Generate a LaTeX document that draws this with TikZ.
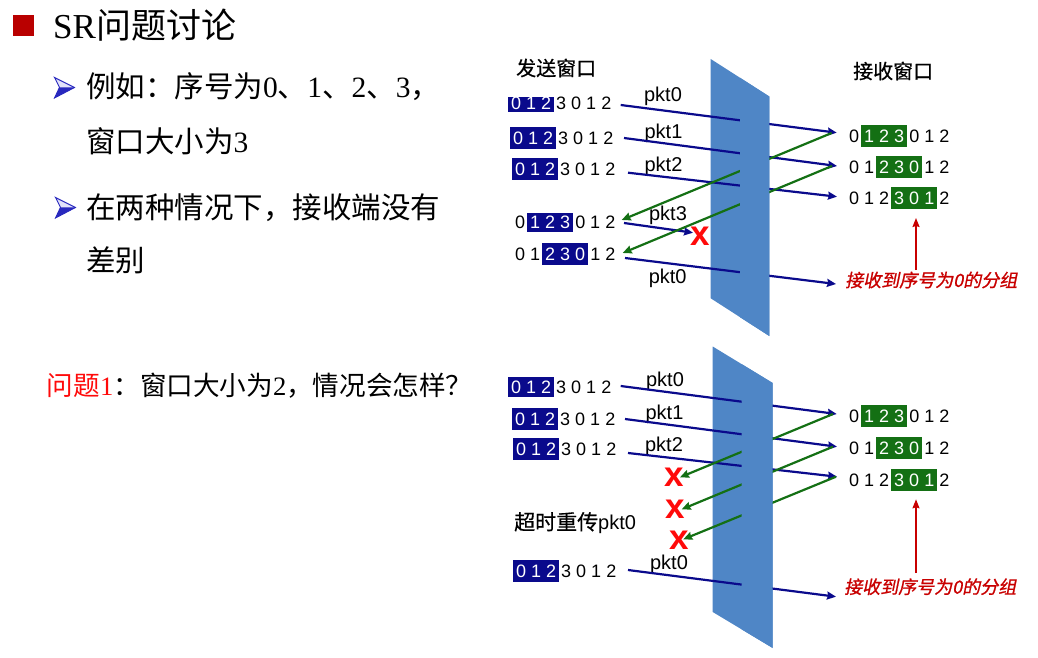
\documentclass[tikz,border=0pt]{standalone}
\usepackage{fontspec}
\usetikzlibrary{arrows.meta}
\setmainfont{Liberation Serif}
\newfontfamily\cjk{Noto Sans CJK SC}
\newfontfamily\cjkb[FakeBold=0.6]{Noto Sans CJK SC}
\newfontfamily\cjkit[FakeSlant=0.2,FakeBold=1]{Noto Sans CJK SC}
\newfontfamily\arial{Liberation Sans}
\definecolor{nv}{RGB}{10,10,140}
\definecolor{gr}{RGB}{20,112,20}
\definecolor{slab}{RGB}{79,134,198}
\definecolor{dred}{RGB}{200,0,0}
\definecolor{xred}{RGB}{255,10,10}
\definecolor{sqred}{RGB}{185,0,0}
\definecolor{bul}{RGB}{40,40,190}
\definecolor{bullight}{RGB}{225,225,250}
\newcommand\hl[4]{\kern-3pt{\fboxsep=0pt\colorbox{#1}{\rule[-#2]{0pt}{\dimexpr#2+#3\relax}\kern3pt\textcolor{white}{#4}\kern3pt\relax}}\kern-3pt\relax}
\tikzset{
  seq/.style={anchor=base west, inner sep=0pt, font=\arial\fontsize{18}{18}\selectfont},
  pkt/.style={anchor=center, inner sep=0pt, font=\arial\fontsize{20}{20}\selectfont},
  ttl/.style={anchor=west, inner sep=0pt, font=\cjkb\fontsize{20}{20}\selectfont},
  body/.style={anchor=base west, inner sep=0pt, font=\fontsize{29.5}{29.5}\selectfont},
  lbl/.style={anchor=west, inner sep=0pt, text=dred, font=\cjkit\fontsize{18}{18}\selectfont},
  xm/.style={anchor=center, inner sep=0pt, text=xred, font=\arial\bfseries\fontsize{35}{35}\selectfont},
  sendl/.style={draw=nv, line width=2.2pt, -{Stealth[length=9pt,width=8pt,inset=1pt]}},
  ackl/.style={draw=gr, line width=2.2pt, -{Stealth[length=9pt,width=8pt,inset=1pt]}},
  redl/.style={draw=dred, line width=1.4pt, -{Stealth[length=9pt,width=7pt,inset=1pt]}},
  bulout/.style={draw=bul, line width=0.9pt, fill=bullight, line join=miter},
}
\begin{document}
\begin{tikzpicture}[x=1pt,y=-1pt]
\useasboundingbox (0,0) rectangle (1038,658);
% ---------- left text ----------
\fill[sqred] (12.7,15) rectangle (34,35.7);
\node[anchor=base west, inner sep=0pt, font=\fontsize{35}{35}\selectfont] (title) at (53,38.3) {SR{\cjk 问题讨论}};
\draw[bulout] (54.5,77.5) -- (74.5,87.5) -- (54.5,98) -- (59.5,87.3) -- cycle;
\fill[bul] (59.5,87.3) -- (74.5,87.5) -- (54.5,98) -- cycle;
\draw[bulout] (55.5,197.5) -- (75.5,207.5) -- (55.5,218) -- (60.5,207.3) -- cycle;
\fill[bul] (60.5,207.3) -- (75.5,207.5) -- (55.5,218) -- cycle;
\node[body] (l1) at (86,98) {{\cjk 例如：序号为}0{\cjk 、}1{\cjk 、}2{\cjk 、}3{\cjk ，}};
\node[body] (l2) at (86,152) {{\cjk 窗口大小为}3};
\node[body] (l3) at (86,218) {{\cjk 在两种情况下，接收端没有}};
\node[body] (l4) at (86,271.7) {{\cjk 差别}};
\node[anchor=base west, inner sep=0pt, font=\fontsize{26.6}{26.6}\selectfont] (q) at (46.7,395)
  {\textcolor{xred}{{\cjk 问题}1}{\cjk ：窗口大小为}2{\cjk ，情况会怎样？}};
% ---------- slabs ----------
\fill[slab] (710.7,59) -- (769.3,96.5) -- (769.3,336) -- (710.7,298.3) -- cycle;
\fill[slab] (712.7,346.5) -- (772.7,383) -- (772.7,648) -- (712.7,612) -- cycle;
% ---------- top diagram ----------
\node[ttl] (snd) at (516,68) {发送窗口};
\node[ttl] (rcv) at (853,71) {接收窗口};
\node[seq] (s1) at (511,110) {\hl{nv}{1.7pt}{13.3pt}{0 1 2} 3 0 1 2};
\node[seq] (s2) at (513,144.5) {\hl{nv}{4.5pt}{17.5pt}{0 1 2} 3 0 1 2};
\node[seq] (s3) at (515,175.5) {\hl{nv}{4.5pt}{17.5pt}{0 1 2} 3 0 1 2};
\node[seq] (s4) at (515,228.5) {0 \hl{nv}{3.5pt}{15.5pt}{1 2 3} 0 1 2};
\node[seq] (s5) at (515,260.5) {0 1 \hl{nv}{4.5pt}{17.5pt}{2 3 0} 1 2};
\node[seq] (r1) at (849,142.5) {0 \hl{gr}{4.5pt}{17.5pt}{1 2 3} 0 1 2};
\node[seq] (r2) at (849,173.5) {0 1 \hl{gr}{4.5pt}{17.5pt}{2 3 0} 1 2};
\node[seq] (r3) at (849,204.5) {0 1 2 \hl{gr}{4.5pt}{17.5pt}{3 0 1} 2};
\node[pkt] (k0) at (663,96.7) {pkt0};
\node[pkt] (k1) at (663.5,133.3) {pkt1};
\node[pkt] (k2) at (663.5,166.7) {pkt2};
\node[pkt] (k3) at (668,215.7) {pkt3};
\node[pkt] (k4) at (667.7,278.3) {pkt0};
\coordinate (a0) at (620.7,105);   \coordinate (b0) at (836.7,132.7);
\coordinate (a1) at (624,138);     \coordinate (b1) at (837,166);
\coordinate (a2) at (628,172.7);   \coordinate (b2) at (837,196.7);
\coordinate (a3) at (624,223);     \coordinate (b3) at (693,232.7);
\coordinate (a4) at (625,258);     \coordinate (b4) at (836,284);
\coordinate (g1s) at (831.7,133);  \coordinate (g1e) at (621.7,220);
\coordinate (g2s) at (832,166);    \coordinate (g2e) at (622.7,253);
\draw[sendl] (a0) -- (b0);
\draw[sendl] (a1) -- (b1);
\draw[sendl] (a2) -- (b2);
\draw[sendl] (a3) -- (b3);
\draw[sendl] (a4) -- (b4);
\draw[ackl] (g1s) -- (g1e);
\draw[ackl] (g2s) -- (g2e);
\node[xm] (x0) at (700.5,236) {x};
\coordinate (ra) at (916,270); \coordinate (rb) at (916,218);
\draw[redl] (ra) -- (rb);
\node[lbl] (rl1) at (845,280) {接收到序号为0的分组};
% ---------- bottom diagram ----------
\node[seq] (u1) at (511,393) {\hl{nv}{3.7pt}{16.3pt}{0 1 2} 3 0 1 2};
\node[seq] (u2) at (515,425.5) {\hl{nv}{4.5pt}{17.5pt}{0 1 2} 3 0 1 2};
\node[seq] (u3) at (516,455.5) {\hl{nv}{4.5pt}{17.5pt}{0 1 2} 3 0 1 2};
\node[seq] (u4) at (516,577.5) {\hl{nv}{4.5pt}{17.5pt}{0 1 2} 3 0 1 2};
\node[anchor=west, inner sep=0pt] (to) at (514,523) {{\cjkb\fontsize{21}{21}\selectfont 超时重传}{\arial\fontsize{20}{20}\selectfont pkt0}};
\node[seq] (v1) at (849,422.5) {0 \hl{gr}{4.5pt}{17.5pt}{1 2 3} 0 1 2};
\node[seq] (v2) at (849,454.5) {0 1 \hl{gr}{4.5pt}{17.5pt}{2 3 0} 1 2};
\node[seq] (v3) at (849,486) {0 1 2 \hl{gr}{4.5pt}{17.5pt}{3 0 1} 2};
\node[pkt] (m0) at (665,381.7) {pkt0};
\node[pkt] (m1) at (664.5,414) {pkt1};
\node[pkt] (m2) at (664,446.7) {pkt2};
\node[pkt] (m3) at (669,564) {pkt0};
\coordinate (c0) at (620.7,386);   \coordinate (d0) at (836.7,414);
\coordinate (c1) at (625,419);     \coordinate (d1) at (837,446.7);
\coordinate (c2) at (628,453);     \coordinate (d2) at (837,476.7);
\coordinate (c3) at (628,570);     \coordinate (d3) at (836,596.7);
\coordinate (h1s) at (833,414);    \coordinate (h1e) at (680,477.3);
\coordinate (h2s) at (833,446.7);  \coordinate (h2e) at (681.7,509.3);
\coordinate (h3s) at (836,476.7);  \coordinate (h3e) at (683.3,539.3);
\draw[sendl] (c0) -- (d0);
\draw[sendl] (c1) -- (d1);
\draw[sendl] (c2) -- (d2);
\draw[sendl] (c3) -- (d3);
\draw[ackl] (h1s) -- (h1e);
\draw[ackl] (h2s) -- (h2e);
\draw[ackl] (h3s) -- (h3e);
\node[xm] (x1) at (674,477.3) {x};
\node[xm] (x2) at (675.3,509) {x};
\node[xm] (x3) at (679,540.3) {x};
\coordinate (rc) at (916,573); \coordinate (rd) at (916,499.3);
\draw[redl] (rc) -- (rd);
\node[lbl] (rl2) at (844,586.7) {接收到序号为0的分组};
% ---------- right halves of slabs drawn over the lines ----------
\fill[slab] (740,77.75) -- (769.3,96.5) -- (769.3,336) -- (740,317.2) -- cycle;
\fill[slab] (741.5,364) -- (772.7,383) -- (772.7,648) -- (741.5,629.3) -- cycle;
\end{tikzpicture}
\end{document}
